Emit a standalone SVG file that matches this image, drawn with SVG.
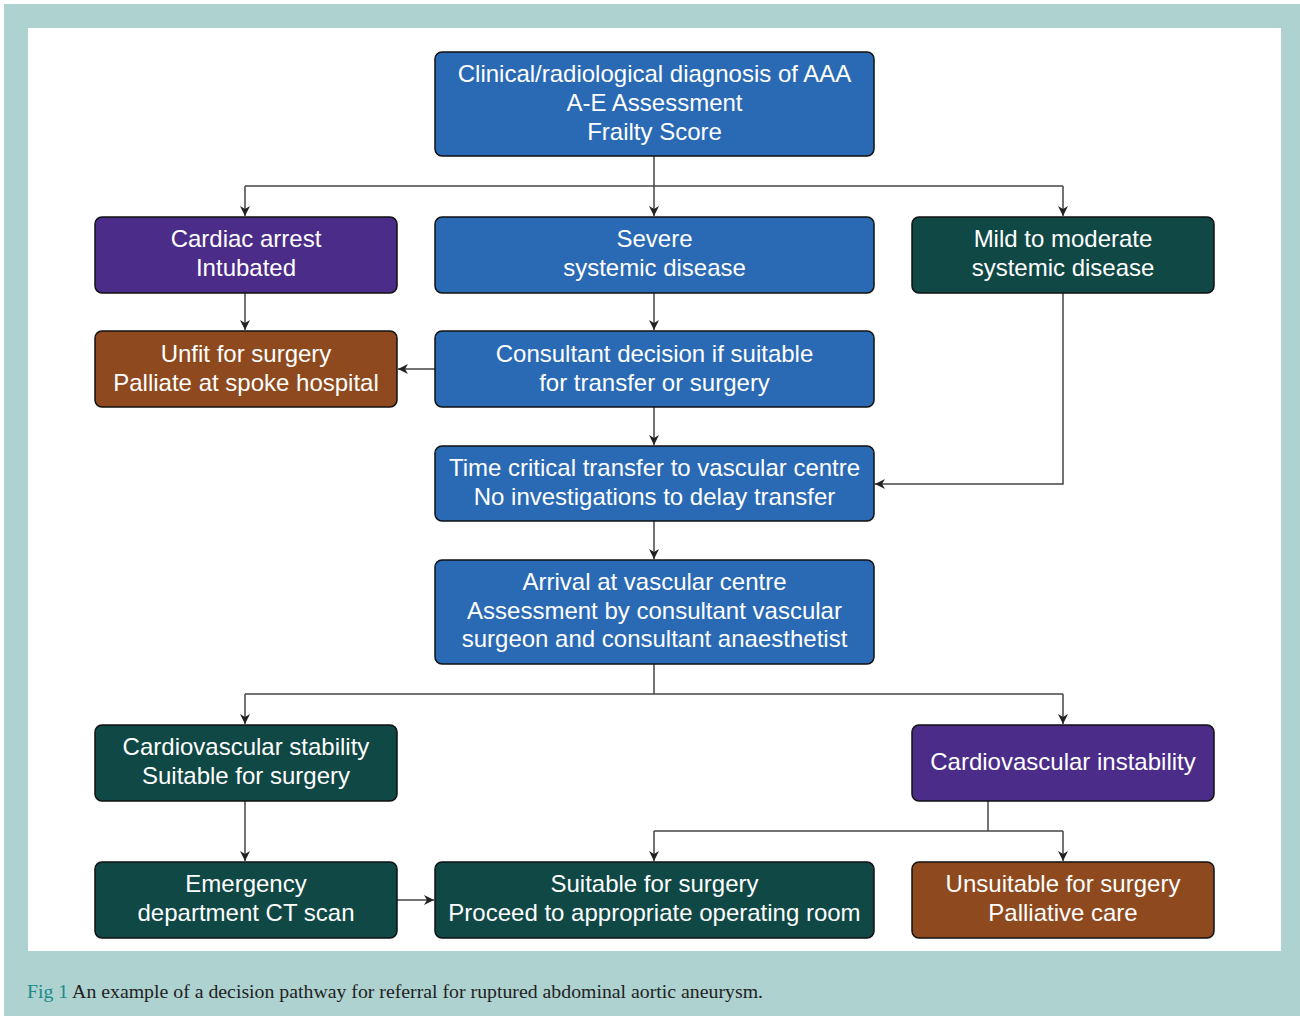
<svg xmlns="http://www.w3.org/2000/svg" width="1300" height="1016" viewBox="0 0 1300 1016">
<defs>
<marker id="ah" viewBox="0 0 10 10" refX="10" refY="5" markerWidth="11" markerHeight="10" markerUnits="userSpaceOnUse" orient="auto">
<path d="M0,0 L10,5 L0,10 L3,5 z" fill="#222"/>
</marker>
<style>
.n rect{stroke:#111;stroke-width:1.5}
.blue rect{fill:#2A6AB4}
.purple rect{fill:#4B2C88}
.green rect{fill:#0F4845}
.orange rect{fill:#8E4A1E}
.n text{fill:#fff;font-family:"Liberation Sans",Arial,sans-serif;font-size:24px;text-anchor:middle}
.c path{fill:none;stroke:#444;stroke-width:1.5}
.c .a{marker-end:url(#ah)}
</style>
</defs>
<rect x="0" y="0" width="1300" height="1016" fill="#fff"/>
<rect x="4" y="4" width="1296" height="1012" fill="#AED2D0"/>
<rect x="28" y="28" width="1253" height="923" fill="#fff"/>
<text x="27" y="998" font-family="Liberation Serif,serif" font-size="19" fill="#222" textLength="736" lengthAdjust="spacingAndGlyphs"><tspan fill="#1A8A8A">Fig 1</tspan> An example of a decision pathway for referral for ruptured abdominal aortic aneurysm.</text>

<g class="c">
<path d="M654,156 V186"/>
<path d="M245,186 H1063"/>
<path class="a" d="M245,186 V216"/>
<path class="a" d="M654,186 V216"/>
<path class="a" d="M1063,186 V216"/>
<path class="a" d="M245,293 V330"/>
<path class="a" d="M654,293 V330"/>
<path class="a" d="M435,369 H398"/>
<path class="a" d="M654,407 V445"/>
<path class="a" d="M1063,293 V484 H875"/>
<path class="a" d="M654,521 V559"/>
<path d="M654,664 V694"/>
<path d="M245,694 H1063"/>
<path class="a" d="M245,694 V724"/>
<path class="a" d="M1063,694 V724"/>
<path class="a" d="M245,801 V861"/>
<path d="M988,801 V831"/>
<path d="M654,831 H1063"/>
<path class="a" d="M654,831 V861"/>
<path class="a" d="M1063,831 V861"/>
<path class="a" d="M397,900 H434"/>
</g>

<g id="n1" class="n blue"><rect x="435" y="52" width="439" height="104" rx="7"/>
<text x="654.5" y="82">Clinical/radiological diagnosis of AAA</text><text x="654.5" y="111">A-E Assessment</text><text x="654.5" y="140">Frailty Score</text></g>

<g id="n2" class="n purple"><rect x="95" y="217" width="302" height="76" rx="7"/>
<text x="246" y="247">Cardiac arrest</text><text x="246" y="276">Intubated</text></g>
<g id="n3" class="n blue"><rect x="435" y="217" width="439" height="76" rx="7"/>
<text x="654.5" y="247">Severe</text><text x="654.5" y="276">systemic disease</text></g>
<g id="n4" class="n green"><rect x="912" y="217" width="302" height="76" rx="7"/>
<text x="1063" y="247">Mild to moderate</text><text x="1063" y="276">systemic disease</text></g>

<g id="n5" class="n orange"><rect x="95" y="331" width="302" height="76" rx="7"/>
<text x="246" y="362">Unfit for surgery</text><text x="246" y="391">Palliate at spoke hospital</text></g>
<g id="n6" class="n blue"><rect x="435" y="331" width="439" height="76" rx="7"/>
<text x="654.5" y="362">Consultant decision if suitable</text><text x="654.5" y="391">for transfer or surgery</text></g>

<g id="n7" class="n blue"><rect x="435" y="446" width="439" height="75" rx="7"/>
<text x="654.5" y="476">Time critical transfer to vascular centre</text><text x="654.5" y="505">No investigations to delay transfer</text></g>

<g id="n8" class="n blue"><rect x="435" y="560" width="439" height="104" rx="7"/>
<text x="654.5" y="590">Arrival at vascular centre</text><text x="654.5" y="619">Assessment by consultant vascular</text><text x="654.5" y="647">surgeon and consultant anaesthetist</text></g>

<g id="n9" class="n green"><rect x="95" y="725" width="302" height="76" rx="7"/>
<text x="246" y="755">Cardiovascular stability</text><text x="246" y="784">Suitable for surgery</text></g>
<g id="n10" class="n purple"><rect x="912" y="725" width="302" height="76" rx="7"/>
<text x="1063" y="770">Cardiovascular instability</text></g>

<g id="n11" class="n green"><rect x="95" y="862" width="302" height="76" rx="7"/>
<text x="246" y="892">Emergency</text><text x="246" y="921">department CT scan</text></g>
<g id="n12" class="n green"><rect x="435" y="862" width="439" height="76" rx="7"/>
<text x="654.5" y="892">Suitable for surgery</text><text x="654.5" y="921">Proceed to appropriate operating room</text></g>
<g id="n13" class="n orange"><rect x="912" y="862" width="302" height="76" rx="7"/>
<text x="1063" y="892">Unsuitable for surgery</text><text x="1063" y="921">Palliative care</text></g>
</svg>
